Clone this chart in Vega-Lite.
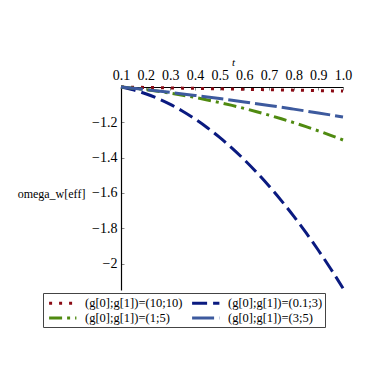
{
  "$schema": "https://vega.github.io/schema/vega-lite/v6.json",
  "autosize": "none",
  "width": 222,
  "height": 203,
  "padding": {"left": 121, "top": 87, "right": 39, "bottom": 92},
  "background": "white",
  "config": {"font": "'Liberation Serif', 'Times New Roman', 'DejaVu Serif', serif", "view": {"stroke": null}},
  "data": {"values": [
    {"t":0.1,"s":"(g[0];g[1])=(10;10)","v":-1.0},
    {"t":0.15,"s":"(g[0];g[1])=(10;10)","v":-1.0013},
    {"t":0.2,"s":"(g[0];g[1])=(10;10)","v":-1.0026},
    {"t":0.25,"s":"(g[0];g[1])=(10;10)","v":-1.0038},
    {"t":0.3,"s":"(g[0];g[1])=(10;10)","v":-1.0051},
    {"t":0.35,"s":"(g[0];g[1])=(10;10)","v":-1.0064},
    {"t":0.4,"s":"(g[0];g[1])=(10;10)","v":-1.0077},
    {"t":0.45,"s":"(g[0];g[1])=(10;10)","v":-1.009},
    {"t":0.5,"s":"(g[0];g[1])=(10;10)","v":-1.0102},
    {"t":0.55,"s":"(g[0];g[1])=(10;10)","v":-1.0115},
    {"t":0.6,"s":"(g[0];g[1])=(10;10)","v":-1.0128},
    {"t":0.65,"s":"(g[0];g[1])=(10;10)","v":-1.0141},
    {"t":0.7,"s":"(g[0];g[1])=(10;10)","v":-1.0154},
    {"t":0.75,"s":"(g[0];g[1])=(10;10)","v":-1.0166},
    {"t":0.8,"s":"(g[0];g[1])=(10;10)","v":-1.0179},
    {"t":0.85,"s":"(g[0];g[1])=(10;10)","v":-1.0192},
    {"t":0.9,"s":"(g[0];g[1])=(10;10)","v":-1.0205},
    {"t":0.95,"s":"(g[0];g[1])=(10;10)","v":-1.0218},
    {"t":1.0,"s":"(g[0];g[1])=(10;10)","v":-1.023},
    {"t":0.1,"s":"(g[0];g[1])=(0.1;3)","v":-1.0},
    {"t":0.15,"s":"(g[0];g[1])=(0.1;3)","v":-1.0164},
    {"t":0.2,"s":"(g[0];g[1])=(0.1;3)","v":-1.0383},
    {"t":0.25,"s":"(g[0];g[1])=(0.1;3)","v":-1.0657},
    {"t":0.3,"s":"(g[0];g[1])=(0.1;3)","v":-1.0986},
    {"t":0.35,"s":"(g[0];g[1])=(0.1;3)","v":-1.1371},
    {"t":0.4,"s":"(g[0];g[1])=(0.1;3)","v":-1.1811},
    {"t":0.45,"s":"(g[0];g[1])=(0.1;3)","v":-1.2306},
    {"t":0.5,"s":"(g[0];g[1])=(0.1;3)","v":-1.2856},
    {"t":0.55,"s":"(g[0];g[1])=(0.1;3)","v":-1.3462},
    {"t":0.6,"s":"(g[0];g[1])=(0.1;3)","v":-1.4123},
    {"t":0.65,"s":"(g[0];g[1])=(0.1;3)","v":-1.4839},
    {"t":0.7,"s":"(g[0];g[1])=(0.1;3)","v":-1.561},
    {"t":0.75,"s":"(g[0];g[1])=(0.1;3)","v":-1.6437},
    {"t":0.8,"s":"(g[0];g[1])=(0.1;3)","v":-1.7319},
    {"t":0.85,"s":"(g[0];g[1])=(0.1;3)","v":-1.8256},
    {"t":0.9,"s":"(g[0];g[1])=(0.1;3)","v":-1.9248},
    {"t":0.95,"s":"(g[0];g[1])=(0.1;3)","v":-2.0296},
    {"t":1.0,"s":"(g[0];g[1])=(0.1;3)","v":-2.1399},
    {"t":0.1,"s":"(g[0];g[1])=(1;5)","v":-1.0},
    {"t":0.15,"s":"(g[0];g[1])=(1;5)","v":-1.0071},
    {"t":0.2,"s":"(g[0];g[1])=(1;5)","v":-1.0153},
    {"t":0.25,"s":"(g[0];g[1])=(1;5)","v":-1.0246},
    {"t":0.3,"s":"(g[0];g[1])=(1;5)","v":-1.035},
    {"t":0.35,"s":"(g[0];g[1])=(1;5)","v":-1.0466},
    {"t":0.4,"s":"(g[0];g[1])=(1;5)","v":-1.0593},
    {"t":0.45,"s":"(g[0];g[1])=(1;5)","v":-1.0732},
    {"t":0.5,"s":"(g[0];g[1])=(1;5)","v":-1.0882},
    {"t":0.55,"s":"(g[0];g[1])=(1;5)","v":-1.1043},
    {"t":0.6,"s":"(g[0];g[1])=(1;5)","v":-1.1215},
    {"t":0.65,"s":"(g[0];g[1])=(1;5)","v":-1.1399},
    {"t":0.7,"s":"(g[0];g[1])=(1;5)","v":-1.1594},
    {"t":0.75,"s":"(g[0];g[1])=(1;5)","v":-1.18},
    {"t":0.8,"s":"(g[0];g[1])=(1;5)","v":-1.2017},
    {"t":0.85,"s":"(g[0];g[1])=(1;5)","v":-1.2246},
    {"t":0.9,"s":"(g[0];g[1])=(1;5)","v":-1.2486},
    {"t":0.95,"s":"(g[0];g[1])=(1;5)","v":-1.2738},
    {"t":1.0,"s":"(g[0];g[1])=(1;5)","v":-1.3001},
    {"t":0.1,"s":"(g[0];g[1])=(3;5)","v":-1.0},
    {"t":0.15,"s":"(g[0];g[1])=(3;5)","v":-1.0073},
    {"t":0.2,"s":"(g[0];g[1])=(3;5)","v":-1.0149},
    {"t":0.25,"s":"(g[0];g[1])=(3;5)","v":-1.0227},
    {"t":0.3,"s":"(g[0];g[1])=(3;5)","v":-1.0308},
    {"t":0.35,"s":"(g[0];g[1])=(3;5)","v":-1.0391},
    {"t":0.4,"s":"(g[0];g[1])=(3;5)","v":-1.0477},
    {"t":0.45,"s":"(g[0];g[1])=(3;5)","v":-1.0565},
    {"t":0.5,"s":"(g[0];g[1])=(3;5)","v":-1.0656},
    {"t":0.55,"s":"(g[0];g[1])=(3;5)","v":-1.0749},
    {"t":0.6,"s":"(g[0];g[1])=(3;5)","v":-1.0845},
    {"t":0.65,"s":"(g[0];g[1])=(3;5)","v":-1.0943},
    {"t":0.7,"s":"(g[0];g[1])=(3;5)","v":-1.1044},
    {"t":0.75,"s":"(g[0];g[1])=(3;5)","v":-1.1147},
    {"t":0.8,"s":"(g[0];g[1])=(3;5)","v":-1.1253},
    {"t":0.85,"s":"(g[0];g[1])=(3;5)","v":-1.1361},
    {"t":0.9,"s":"(g[0];g[1])=(3;5)","v":-1.1472},
    {"t":0.95,"s":"(g[0];g[1])=(3;5)","v":-1.1585},
    {"t":1.0,"s":"(g[0];g[1])=(3;5)","v":-1.1701}
  ]},
  "mark": {"type": "line", "strokeWidth": 3, "interpolate": "monotone"},
  "encoding": {
    "x": {
      "field": "t", "type": "quantitative",
      "scale": {"domain": [0.1, 1.0], "nice": false, "zero": false},
      "axis": {
        "orient": "top", "title": "t", "titleFontStyle": "italic", "titleFontWeight": "normal",
        "titleFontSize": 11, "titleColor": "black", "titleX": 112, "titleY": -20, "titleAlign": "center",
        "values": [0.1,0.2,0.3,0.4,0.5,0.6,0.7,0.8,0.9,1.0], "format": ".1f",
        "labelFontSize": 14, "labelColor": "black", "labelPadding": 8,
        "domainColor": "black", "domainWidth": 1.2, "tickColor": "#888", "tickSize": -3,
        "grid": false, "labelFlush": false, "labelOverlap": false
      }
    },
    "y": {
      "field": "v", "type": "quantitative",
      "scale": {"domain": [-2.15, -1.0], "nice": false, "zero": false},
      "axis": {
        "title": "omega_w[eff]", "titleAngle": 0, "titleFontWeight": "normal",
        "titleFontSize": 12, "titleColor": "black", "titleX": -70, "titleY": 106,
        "titleAlign": "center", "titleBaseline": "middle",
        "values": [-1.2,-1.4,-1.6,-1.8,-2.0], "format": "~f",
        "labelFontSize": 14, "labelColor": "black", "labelPadding": 7,
        "domainColor": "black", "domainWidth": 1.2, "tickColor": "#888", "tickSize": -3,
        "grid": false
      }
    },
    "color": {
      "field": "s", "type": "nominal",
      "scale": {
        "domain": ["(g[0];g[1])=(10;10)","(g[0];g[1])=(1;5)","(g[0];g[1])=(0.1;3)","(g[0];g[1])=(3;5)"],
        "range": ["#8b0a14", "#4f8a10", "#0a1a80", "#3d5a9e"]
      },
      "legend": {
        "title": null, "orient": "none", "legendX": -78, "legendY": 206,
        "columns": 2, "columnPadding": 3, "rowPadding": 0,
        "strokeColor": "#444", "padding": 2, "labelFontSize": 12.5, "labelColor": "black",
        "symbolType": "M-0.6,0H3.6", "symbolSize": 169, "symbolStrokeWidth": 3, "labelLimit": 300,
        "labelOffset": 24
      }
    },
    "strokeDash": {
      "field": "s", "type": "nominal",
      "scale": {
        "domain": ["(g[0];g[1])=(10;10)","(g[0];g[1])=(1;5)","(g[0];g[1])=(0.1;3)","(g[0];g[1])=(3;5)"],
        "range": [[3, 7], [13, 5, 3, 5], [15, 6], [22, 5]]
      },
      "legend": null
    }
  }
}
